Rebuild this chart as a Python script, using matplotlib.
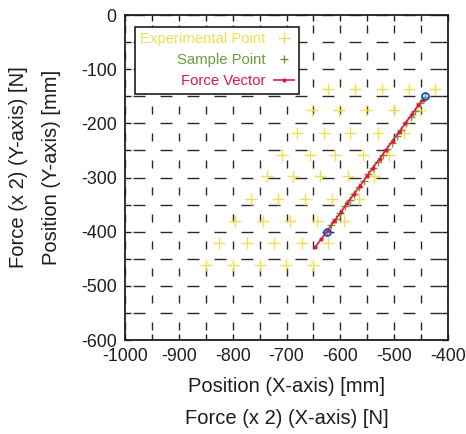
import matplotlib
matplotlib.use("Agg")
import matplotlib.pyplot as plt
from matplotlib.ticker import MultipleLocator

plt.rcParams['font.family'] = ['Liberation Sans', 'DejaVu Sans']
plt.rcParams['axes.unicode_minus'] = False

# Experimental points (yellow +)
exp_x = [-622, -572, -523, -473, -424,
         -653, -602, -552, -501, -452,
         -681, -631, -582, -530, -481,
         -709, -657, -610, -558, -509,
         -737, -687, -638, -586, -537,
         -766, -715, -665, -615, -565,
         -796, -744, -693, -643, -594,
         -825, -774, -723, -672, -622,
         -849, -800, -750, -701, -651]
exp_y = [-137, -137, -137, -137, -137,
         -175, -175, -175, -175, -175,
         -218, -218, -218, -218, -218,
         -258, -258, -258, -258, -258,
         -298, -298, -298, -298, -298,
         -340, -340, -340, -340, -340,
         -380, -380, -380, -380, -380,
         -421, -421, -421, -421, -421,
         -461, -461, -461, -461, -461]

# Sample points (green +)
smp_x = [-625, -617, -608, -600, -591, -582, -574, -565, -556, -548, -539,
         -530, -521, -513, -504, -495, -487, -478, -469, -461, -452, -443]
smp_y = [-400, -388, -376, -365, -353, -341, -330, -318, -306, -294, -283,
         -271, -259, -247, -236, -224, -212, -200, -188, -177, -163, -151]

# Force vector (red)
frc_x = [-647, -635, -623, -611, -599, -587, -575, -563, -551, -539,
         -527, -515, -503, -491, -479, -467, -455, -447]
frc_y = [-429, -413, -397, -380, -364, -347, -331, -315, -298, -282,
         -265, -249, -232, -216, -200, -183, -167, -156]

# End points (blue circles)
end_x = [-625, -442]
end_y = [-400, -150]

c_yel = '#F2DF50'
c_grn = '#6E9A3A'
c_red = '#E2183C'
c_blu = '#1D4FC4'
c_ink = '#1E1E1E'

fig = plt.figure(figsize=(4.66, 4.34), dpi=100)
ax = fig.add_axes([125/466, 1 - 340/434, 323/466, 325/434])

ax.set_xlim(-1000, -400)
ax.set_ylim(-600, 0)
ax.xaxis.set_major_locator(MultipleLocator(100))
ax.yaxis.set_major_locator(MultipleLocator(100))
ax.xaxis.set_minor_locator(MultipleLocator(50))
ax.yaxis.set_minor_locator(MultipleLocator(50))

# dashed grid
pt = 0.72
vdash = (17 * pt, (8 * pt, 19 * pt))
hdash = (19 * pt, (12 * pt, 15 * pt))
ax.grid(True, which='both', axis='x', color='#2a2a2a', linewidth=1.0, linestyle=vdash)
ax.grid(True, which='both', axis='y', color='#2a2a2a', linewidth=1.0, linestyle=hdash)

ax.tick_params(which='both', direction='in', top=True, right=True, length=4,
               width=1.0, labelsize=12.8, colors=c_ink)
ax.tick_params(axis='y', pad=6)
ax.tick_params(axis='x', pad=6)
for s in ax.spines.values():
    s.set_linewidth(1.3)
    s.set_color(c_ink)

ax.plot(exp_x, exp_y, linestyle='none', marker='+', color=c_yel, markersize=8,
        markeredgewidth=1.0, label='Experimental Point')
ax.plot(smp_x, smp_y, linestyle='none', marker='+', color=c_grn, markersize=6,
        markeredgewidth=1.0, label='Sample Point')
ax.plot(frc_x, frc_y, linestyle='-', marker='.', color=c_red, markersize=4,
        linewidth=1.2, label='Force Vector')
ax.plot(end_x, end_y, linestyle='none', marker='o', markerfacecolor='none',
        markeredgecolor=c_blu, markersize=5, markeredgewidth=1.3)

leg = ax.legend(loc='upper left', bbox_to_anchor=(10/323, 1 - 12/325), markerfirst=False,
                frameon=True, fancybox=False, edgecolor=c_ink, fontsize=10.7,
                handlelength=1.3, handletextpad=0.6, borderpad=0.35, labelspacing=0.48,
                borderaxespad=0, framealpha=1)
leg.get_frame().set_linewidth(1.2)
for t, c in zip(leg.get_texts(), [c_yel, c_grn, c_red]):
    t.set_color(c)
    t.set_ha('right')

ax.set_xlabel('Position (X-axis) [mm]\nForce (x 2) (X-axis) [N]', fontsize=14.5,
              color=c_ink, linespacing=1.9)
ax.xaxis.set_label_coords(0.5, -(377 - 340) / 325)
ax.set_ylabel('Force (x 2) (Y-axis) [N]\nPosition (Y-axis) [mm]', fontsize=14.5,
              color=c_ink, linespacing=1.9)
ax.yaxis.set_label_coords((61 - 125) / 323, (340 - 167) / 325)

fig.savefig('out.png', dpi=100)
